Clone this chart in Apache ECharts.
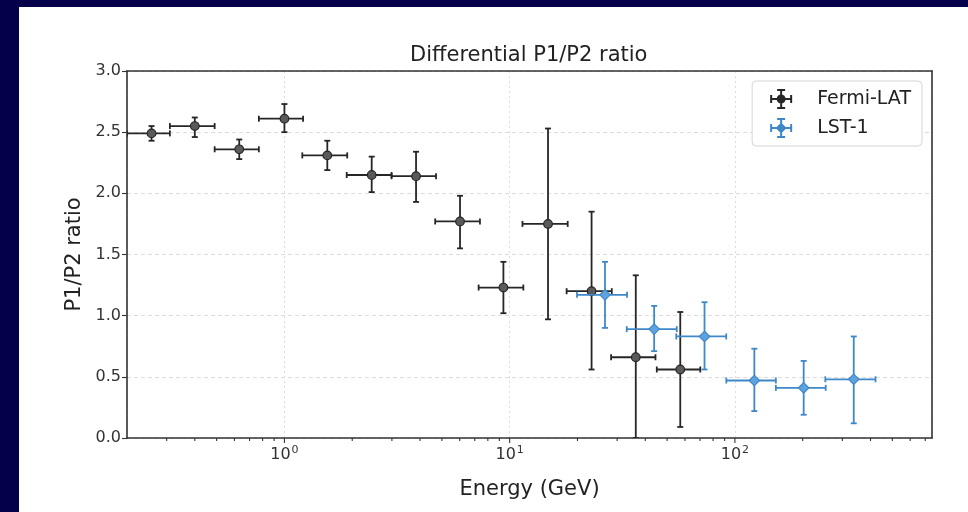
<!DOCTYPE html>
<html>
<head>
<meta charset="utf-8">
<script src="https://cdn.jsdelivr.net/npm/echarts@6/dist/echarts.min.js"></script>
<style>
html,body{margin:0;padding:0;background:#fff;}
#chart{width:968px;height:512px;}
</style>
</head>
<body>
<div id="chart"></div>
<script>
// ---- data ----
const seriesNames = ['Fermi-LAT', 'LST-1'];

const fermiE     = [0.257, 0.40, 0.63, 1.00, 1.55, 2.44, 3.84, 6.02, 9.38, 14.8, 23.1, 36.3, 57.2];
const fermiELow  = [0.20, 0.31, 0.49, 0.77, 1.20, 1.89, 2.99, 4.67, 7.28, 11.4, 17.9, 28.2, 45.0];
const fermiEHigh = [0.31, 0.49, 0.77, 1.21, 1.90, 2.99, 4.71, 7.38, 11.5, 18.1, 28.4, 44.4, 70.2];
const fermiR     = [2.49, 2.55, 2.36, 2.61, 2.31, 2.15, 2.14, 1.77, 1.23, 1.75, 1.20, 0.66, 0.56];
const fermiRLow  = [2.43, 2.46, 2.28, 2.50, 2.19, 2.01, 1.93, 1.55, 1.02, 0.97, 0.56, 0.00, 0.09];
const fermiRHigh = [2.55, 2.62, 2.44, 2.73, 2.43, 2.30, 2.34, 1.98, 1.44, 2.53, 1.85, 1.33, 1.03];

const lstE     = [26.5, 43.8, 73.3, 122, 202, 337];
const lstELow  = [19.9, 33.1, 54.9, 91.6, 152, 252];
const lstEHigh = [33.2, 55.2, 91.5, 152, 253, 421];
const lstR     = [1.17, 0.89, 0.83, 0.47, 0.41, 0.48];
const lstRLow  = [0.90, 0.71, 0.56, 0.22, 0.19, 0.12];
const lstRHigh = [1.44, 1.08, 1.11, 0.73, 0.63, 0.83];

const xMajorTicks = [1, 10, 100];
const xMinorTicks = [0.3, 0.4, 0.5, 0.6, 0.7, 0.8, 0.9,
                     2, 3, 4, 5, 6, 7, 8, 9,
                     20, 30, 40, 50, 60, 70, 80, 90,
                     200, 300, 400, 500, 600, 700];

// ---- styles ----
const FONT = 'DejaVu Sans';
const FERMI_LINE = '#262626', FERMI_FILL = '#5a5a5a';
const LST_LINE = '#3f88c8', LST_FILL = '#5fa3de';
const AXIS_COLOR = '#333333';

function rows(e, el, eh, r, rl, rh) {
  return e.map((v, i) => [v, r[i], el[i], eh[i], rl[i], rh[i]]);
}

function makeErrRender(lineColor, fillColor, marker) {
  return function (params, api) {
    const x = api.value(0), y = api.value(1);
    const xl = api.value(2), xh = api.value(3), yl = api.value(4), yh = api.value(5);
    const c = api.coord([x, y]);
    const l = api.coord([xl, y]), r = api.coord([xh, y]);
    const b = api.coord([x, yl]), t = api.coord([x, yh]);
    const cap = 3;
    const ls = { stroke: lineColor, lineWidth: 1.8, fill: null };
    const children = [
      { type: 'line', shape: { x1: l[0], y1: c[1], x2: r[0], y2: c[1] }, style: ls },
      { type: 'line', shape: { x1: c[0], y1: b[1], x2: c[0], y2: t[1] }, style: ls },
      { type: 'line', shape: { x1: l[0], y1: c[1] - cap, x2: l[0], y2: c[1] + cap }, style: ls },
      { type: 'line', shape: { x1: r[0], y1: c[1] - cap, x2: r[0], y2: c[1] + cap }, style: ls },
      { type: 'line', shape: { x1: c[0] - cap, y1: t[1], x2: c[0] + cap, y2: t[1] }, style: ls },
      { type: 'line', shape: { x1: c[0] - cap, y1: b[1], x2: c[0] + cap, y2: b[1] }, style: ls }
    ];
    if (marker === 'circle') {
      children.push({ type: 'circle', shape: { cx: c[0], cy: c[1], r: 4.3 },
        style: { fill: fillColor, stroke: lineColor, lineWidth: 1.2 } });
    } else {
      const d = 5.2;
      children.push({ type: 'polygon', shape: { points: [[c[0], c[1] - d], [c[0] + d, c[1]], [c[0], c[1] + d], [c[0] - d, c[1]]] },
        style: { fill: fillColor, stroke: lineColor, lineWidth: 1.2 } });
    }
    return { type: 'group', children: children };
  };
}

function tickRender(len) {
  return function (params, api) {
    const p = api.coord([api.value(0), 0]);
    return { type: 'line', shape: { x1: p[0], y1: p[1], x2: p[0], y2: p[1] + len },
      style: { stroke: AXIS_COLOR, lineWidth: 1.1 } };
  };
}

const iconCircle = 'path://M0 9H22V11H0Z M0 6H2V14H0Z M20 6H22V14H20Z M10 0H12V20H10Z M7 0H15V2H7Z M7 18H15V20H7Z M6.5 10A4.5 4.5 0 1 1 15.5 10A4.5 4.5 0 1 1 6.5 10Z';
const iconDiamond = 'path://M0 9H22V11H0Z M0 6H2V14H0Z M20 6H22V14H20Z M10 0H12V20H10Z M7 0H15V2H7Z M7 18H15V20H7Z M11 4.5L16.5 10L11 15.5L5.5 10Z';

const chart = echarts.init(document.getElementById('chart'), null, { renderer: 'canvas' });

const spineOnly = {
  axisLine: { show: true, onZero: false, lineStyle: { color: AXIS_COLOR, width: 1.6 } },
  axisTick: { show: false }, axisLabel: { show: false }, splitLine: { show: false }
};

const option = {
  backgroundColor: '#ffffff',
  animation: false,
  textStyle: { fontFamily: FONT },
  graphic: [
    { type: 'rect', left: 0, top: 0, shape: { width: 968, height: 7 }, style: { fill: '#05004a' }, silent: true },
    { type: 'rect', left: 0, top: 0, shape: { width: 19, height: 512 }, style: { fill: '#05004a' }, silent: true }
  ],
  title: {
    text: 'Differential P1/P2 ratio',
    left: 410, top: 45,
    padding: 0,
    textStyle: { fontFamily: FONT, fontSize: 21, fontWeight: 'normal', color: '#222' }
  },
  legend: {
    orient: 'vertical',
    right: 46, top: 81,
    padding: [8, 11, 8, 18],
    itemGap: 9,
    itemWidth: 22, itemHeight: 20,
    borderColor: '#d4d4d4', borderWidth: 1, borderRadius: 4,
    backgroundColor: '#fff',
    textStyle: { fontFamily: FONT, fontSize: 19, color: '#222', padding: [0, 0, 0, 20] },
    data: [
      { name: seriesNames[0], icon: iconCircle, itemStyle: { color: FERMI_LINE } },
      { name: seriesNames[1], icon: iconDiamond, itemStyle: { color: LST_LINE } }
    ]
  },
  grid: {
    left: 127, right: 36, top: 71, bottom: 74, show: false
  },
  xAxis: [{
    type: 'log', logBase: 10, min: 0.2, max: 750,
    name: 'Energy (GeV)', nameLocation: 'middle', nameGap: 41,
    nameTextStyle: { fontFamily: FONT, fontSize: 21, color: '#222' },
    axisLine: { show: true, onZero: false, lineStyle: { color: AXIS_COLOR, width: 1.6 } },
    axisTick: { show: false },
    axisLabel: {
      showMinLabel: false, showMaxLabel: false, margin: 7,
      fontFamily: FONT, fontSize: 16, color: '#333',
      formatter: function (v) {
        const e = Math.round(Math.log10(v));
        return '{b|10}{s|' + e + '}';
      },
      rich: {
        b: { fontFamily: FONT, fontSize: 16, color: '#333' },
        s: { fontFamily: FONT, fontSize: 11, color: '#333', verticalAlign: 'top', padding: [0, 0, 8, 1] }
      }
    },
    splitLine: { show: true, lineStyle: { color: '#dcdcdc', type: [2, 3], width: 1 } }
  }, Object.assign({ type: 'log', logBase: 10, min: 0.2, max: 750, position: 'top' }, spineOnly)],
  yAxis: [{
    type: 'value', min: 0, max: 3, interval: 0.5,
    name: 'P1/P2 ratio', nameLocation: 'middle', nameGap: 38, nameRotate: 90,
    nameTextStyle: { fontFamily: FONT, fontSize: 21, color: '#222' },
    axisLine: { show: true, onZero: false, lineStyle: { color: AXIS_COLOR, width: 1.6 } },
    axisTick: { show: true, length: 5, lineStyle: { color: AXIS_COLOR, width: 1.1 } },
    axisLabel: { fontFamily: FONT, fontSize: 16, color: '#333', margin: 6,
      formatter: function (v) { return v.toFixed(1); } },
    splitLine: { show: true, lineStyle: { color: '#dcdcdc', type: [4, 3], width: 1 } }
  }, Object.assign({ type: 'value', min: 0, max: 3, interval: 0.5, position: 'right' }, spineOnly)],
  series: [
    {
      name: 'xMajorTicks', type: 'custom', silent: true, clip: false,
      data: xMajorTicks.map(v => [v, 0]), renderItem: tickRender(5), encode: { x: 0, y: 1 }, z: 5
    },
    {
      name: 'xMinorTicks', type: 'custom', silent: true, clip: false,
      data: xMinorTicks.map(v => [v, 0]), renderItem: tickRender(3), encode: { x: 0, y: 1 }, z: 5
    },
    {
      name: seriesNames[0], type: 'custom', clip: true,
      itemStyle: { color: FERMI_LINE },
      data: rows(fermiE, fermiELow, fermiEHigh, fermiR, fermiRLow, fermiRHigh),
      encode: { x: [0, 2, 3], y: [1, 4, 5] },
      renderItem: makeErrRender(FERMI_LINE, FERMI_FILL, 'circle'), z: 3
    },
    {
      name: seriesNames[1], type: 'custom', clip: true,
      itemStyle: { color: LST_LINE },
      data: rows(lstE, lstELow, lstEHigh, lstR, lstRLow, lstRHigh),
      encode: { x: [0, 2, 3], y: [1, 4, 5] },
      renderItem: makeErrRender(LST_LINE, LST_FILL, 'diamond'), z: 4
    }
  ]
};
chart.setOption(option);
</script>
</body>
</html>
